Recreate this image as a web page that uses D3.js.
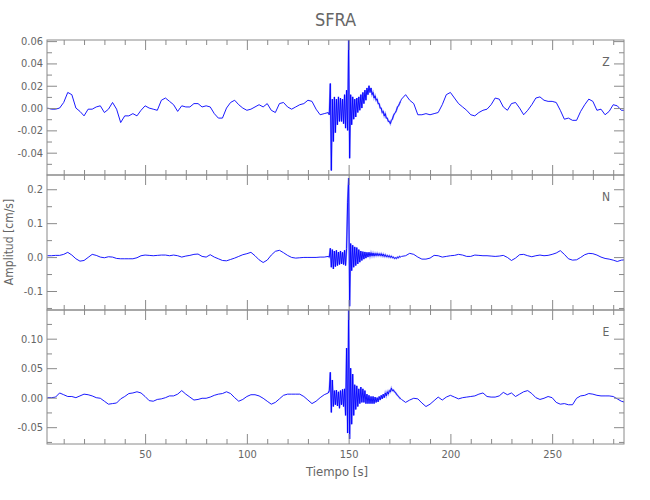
<!DOCTYPE html>
<html><head><meta charset="utf-8">
<script src="https://cdn.jsdelivr.net/npm/d3@7"></script>
<style>
body{margin:0;background:#fff}
text{font-family:"Liberation Sans Narrow","DejaVu Sans Condensed","Liberation Sans",sans-serif;fill:#666}
</style></head>
<body><svg id="c" width="650" height="500"></svg>
<script>
// ---- data (time in s, amplitude in cm/s) ----
const tPre = d3.range(2, 140, 2);      // 2..138
const tEvent = d3.range(140, 176, 0.5); // 140..175.5
const tPost = d3.range(176, 287, 2);   // 176..286

const zPre = [0.000,-0.001,-0.001,0.000,0.005,0.014,0.012,0.000,-0.003,-0.007,
 -0.001,-0.001,0.001,0.002,-0.004,-0.001,0.005,-0.001,-0.013,-0.007,
 -0.007,-0.005,-0.007,-0.002,0.002,0.000,-0.001,-0.002,0.007,0.009,
 0.006,0.003,-0.003,0.002,0.001,0.001,0.004,0.004,0.001,0.002,
 0.001,-0.005,-0.009,-0.009,0.000,0.005,0.007,0.003,0.000,-0.002,
 -0.001,0.001,0.003,0.001,0.004,-0.002,-0.004,0.004,0.005,0.001,
 -0.001,0.001,0.003,0.004,0.007,0.006,-0.001,-0.006,-0.005];
const zEvent = [-0.004,-0.006,0.022,-0.056,0.008,-0.030,0.010,-0.022,0.008,-0.015,
 0.010,-0.012,0.009,-0.012,0.008,-0.014,0.012,-0.018,0.016,-0.020,
 0.061,-0.045,0.012,-0.015,0.010,-0.010,0.008,-0.008,0.009,-0.004,
 0.010,-0.002,0.012,0.000,0.014,0.004,0.016,0.007,0.018,0.012,
 0.020,0.014,0.018,0.012,0.014,0.009,0.011,0.007,0.008,0.004,
 0.004,0.000,0.000,-0.004,-0.003,-0.007,-0.005,-0.009,-0.009,-0.012,
 -0.012,-0.014,-0.011,-0.010,-0.007,-0.005,-0.004,-0.002,0.001,0.002,
 0.004,0.006];
const zPost = [0.008,0.012,0.007,0.004,-0.006,-0.006,-0.005,-0.006,-0.005,-0.004,
 0.003,0.012,0.014,0.009,0.004,0.001,-0.002,-0.006,-0.007,-0.004,
 -0.002,-0.001,0.003,0.009,0.008,0.001,-0.002,0.004,0.005,0.000,
 -0.006,-0.002,0.003,0.009,0.010,0.007,0.006,0.006,0.005,-0.002,
 -0.010,-0.009,-0.011,-0.011,-0.003,0.003,0.008,0.006,-0.002,-0.001,
 -0.006,-0.003,0.003,0.002,-0.002,-0.002];

const nPre = [0.004,0.004,0.005,0.005,0.008,0.014,0.006,-0.005,-0.012,-0.010,
 -0.001,0.008,0.005,0.000,-0.002,0.001,0.000,-0.004,-0.005,-0.005,
 -0.005,-0.005,-0.002,0.004,0.006,0.005,0.004,0.005,0.006,0.006,
 0.004,0.006,0.004,0.000,0.003,0.005,0.008,0.009,0.002,0.000,
 0.007,0.000,-0.005,-0.010,-0.011,-0.007,-0.003,0.002,0.007,0.010,
 0.014,0.004,-0.008,-0.016,-0.009,0.006,0.017,0.020,0.013,0.005,
 -0.001,-0.003,-0.002,-0.001,-0.001,-0.001,-0.001,0.000,0.000];
const nEvent = [0.002,0.000,0.026,-0.030,0.022,-0.035,0.018,-0.028,0.020,-0.025,
 0.015,-0.022,0.018,-0.020,0.014,-0.022,0.020,-0.025,0.025,0.160,
 0.233,-0.145,0.040,-0.040,0.035,-0.030,0.030,-0.025,0.028,-0.020,
 0.022,-0.015,0.018,-0.010,0.016,-0.006,0.015,-0.003,0.014,0.000,
 0.014,0.002,0.013,0.003,0.012,0.003,0.011,0.004,0.011,0.004,
 0.010,0.004,0.010,0.003,0.009,0.002,0.007,0.001,0.005,0.000,
 0.004,-0.001,0.003,-0.002,0.000,-0.004,-0.002,-0.004,0.000,-0.002,
 0.002,0.000];
const nPost = [0.002,0.004,0.011,0.008,0.000,-0.006,-0.006,-0.003,0.005,0.004,
 0.000,0.002,0.004,0.005,0.008,0.006,0.002,0.002,0.006,0.005,
 0.004,0.004,0.003,0.002,0.003,0.005,-0.001,-0.010,-0.003,0.007,
 0.008,0.004,0.001,0.004,0.006,0.004,0.005,0.008,0.012,0.019,
 0.008,-0.005,-0.009,-0.008,-0.001,0.007,0.011,0.010,0.006,0.000,
 -0.004,-0.006,-0.009,-0.013,-0.009,-0.008];

const ePre = [0.000,0.000,0.001,0.008,0.005,0.002,0.002,0.000,0.003,0.006,
 0.005,0.003,0.000,-0.001,-0.006,-0.011,-0.010,-0.009,-0.002,0.002,
 0.007,0.008,0.010,0.008,0.002,-0.005,-0.006,-0.003,-0.002,0.000,
 0.003,0.003,0.006,0.012,0.006,0.001,-0.004,-0.003,-0.001,-0.001,
 0.001,0.004,0.006,0.007,0.010,0.007,0.000,-0.006,-0.003,0.002,
 0.005,0.005,0.003,-0.001,-0.006,-0.011,-0.008,-0.002,0.004,0.006,
 0.006,0.006,0.006,0.002,-0.004,-0.010,-0.006,0.000,0.005];
const eEvent = [0.008,0.012,0.043,-0.025,0.030,-0.015,0.012,-0.012,0.013,-0.014,
 0.010,-0.018,0.012,-0.012,0.014,-0.015,0.015,-0.030,0.084,-0.060,
 0.150,-0.070,0.050,-0.045,0.040,-0.030,0.022,-0.020,0.020,-0.015,
 0.015,-0.010,0.018,-0.008,0.015,-0.008,0.012,-0.010,0.006,-0.010,
 0.004,-0.010,0.002,-0.010,0.002,-0.010,0.001,-0.008,0.000,-0.007,
 0.002,-0.004,0.004,-0.002,0.006,0.000,0.008,0.003,0.010,0.006,
 0.012,0.010,0.016,0.012,0.013,0.010,0.009,0.006,0.004,0.002,
 0.000,-0.002];
const ePost = [-0.003,-0.008,-0.004,-0.001,-0.002,-0.009,-0.015,-0.011,-0.005,0.001,
 -0.004,0.001,0.004,0.001,-0.002,0.000,0.001,0.002,0.003,0.006,
 0.008,0.002,0.001,0.001,0.003,0.009,0.005,0.008,0.002,0.006,
 0.010,0.012,0.007,0.000,-0.003,-0.001,0.002,0.000,-0.008,-0.011,
 -0.010,-0.012,-0.012,-0.001,0.003,0.004,0.007,0.006,0.004,0.003,
 0.003,0.003,0.002,-0.002,-0.006,-0.008];

const xMajor = [50, 100, 150, 200, 250];
const xMinor = d3.range(10, 290, 10);
const zMajor = [-0.04, -0.02, 0.00, 0.02, 0.04, 0.06];
const zMinor = [-0.05, -0.03, -0.01, 0.01, 0.03, 0.05];
const nMajor = [-0.1, 0.0, 0.1, 0.2];
const nMinor = [-0.15, -0.05, 0.05, 0.15];
const eMajor = [-0.05, 0.00, 0.05, 0.10];
const eMinor = [-0.075, -0.025, 0.025, 0.075, 0.125];

const title = "SFRA";
const xLabel = "Tiempo [s]";
const yLabel = "Amplitud [cm/s]";

// ---- layout ----
const L = 47, R = 624;
const svg = d3.select("#c");
const x = d3.scaleLinear().domain([1.8, 285.3]).range([L, R]);
const times = tPre.concat(tEvent, tPost);

const panels = [
  {name:"Z", ev:zEvent, vals:zPre.concat(zEvent, zPost), dom:[-0.06, 0.061], top:40, bot:175, major:zMajor, minor:zMinor, dec:2},
  {name:"N", ev:nEvent, vals:nPre.concat(nEvent, nPost), dom:[-0.156, 0.242], top:175, bot:310, major:nMajor, minor:nMinor, dec:1},
  {name:"E", ev:eEvent, vals:ePre.concat(eEvent, ePost), dom:[-0.0785, 0.1486], top:310, bot:444, major:eMajor, minor:eMinor, dec:2}
];

const axisCol = "#8a8a8a";
function styleAxis(g){
  g.select(".domain").remove();
  g.selectAll(".tick line").attr("stroke", axisCol);
  g.selectAll(".tick text").attr("fill", "#6a6a6a").style("font-size", "11px")
    .style("font-family", '"Liberation Sans Narrow","DejaVu Sans Condensed",sans-serif');
}

panels.forEach((p, i) => {
  const y = d3.scaleLinear().domain(p.dom).range([p.bot, p.top]);
  const clipId = "clip" + i;
  svg.append("clipPath").attr("id", clipId).append("rect")
    .attr("x", L).attr("y", p.top).attr("width", R - L).attr("height", p.bot - p.top);

  const line = d3.line().x(d => x(d[0])).y(d => y(d[1]));
  // light under-band for the dense strong-motion part
  const evData = tEvent.map((t, k) => [t, p.ev[k]]);
  svg.append("path").datum(evData)
    .attr("clip-path", `url(#${clipId})`)
    .attr("fill", "none").attr("stroke", "#7a7aff").attr("stroke-width", 1.8)
    .attr("stroke-opacity", 0.7).attr("d", line);

  const data = times.map((t, k) => [t, p.vals[k]]);
  svg.append("path").datum(data)
    .attr("clip-path", `url(#${clipId})`)
    .attr("fill", "none").attr("stroke", "#0000ff").attr("stroke-width", 0.9)
    .attr("stroke-linejoin", "round")
    .attr("d", line);

  // frame
  svg.append("rect").attr("x", L).attr("y", p.top).attr("width", R - L).attr("height", p.bot - p.top)
    .attr("fill", "none").attr("stroke", axisCol).attr("stroke-width", 1);

  // y axes
  svg.append("g").attr("transform", `translate(${L},0)`)
    .call(d3.axisLeft(y).tickValues(p.major).tickSize(-10).tickPadding(4).tickFormat(d => d.toFixed(p.dec)))
    .call(styleAxis);
  svg.append("g").attr("transform", `translate(${L},0)`)
    .call(d3.axisLeft(y).tickValues(p.minor).tickSize(-5).tickFormat("")).call(styleAxis);
  svg.append("g").attr("transform", `translate(${R},0)`)
    .call(d3.axisRight(y).tickValues(p.major).tickSize(-10).tickFormat("")).call(styleAxis);
  svg.append("g").attr("transform", `translate(${R},0)`)
    .call(d3.axisRight(y).tickValues(p.minor).tickSize(-5).tickFormat("")).call(styleAxis);

  // x axes (top and bottom of each panel)
  const minorOnly = xMinor.filter(v => !xMajor.includes(v));
  svg.append("g").attr("transform", `translate(0,${p.top})`)
    .call(d3.axisTop(x).tickValues(xMajor).tickSize(-10).tickFormat("")).call(styleAxis);
  svg.append("g").attr("transform", `translate(0,${p.top})`)
    .call(d3.axisTop(x).tickValues(minorOnly).tickSize(-5).tickFormat("")).call(styleAxis);
  const last = i === panels.length - 1;
  svg.append("g").attr("transform", `translate(0,${p.bot})`)
    .call(d3.axisBottom(x).tickValues(xMajor).tickSize(-10).tickPadding(6)
      .tickFormat(last ? d3.format("d") : ""))
    .call(styleAxis);
  svg.append("g").attr("transform", `translate(0,${p.bot})`)
    .call(d3.axisBottom(x).tickValues(minorOnly).tickSize(-5).tickFormat("")).call(styleAxis);

  // component letter
  svg.append("text").attr("x", 606).attr("y", p.top + 26).attr("text-anchor", "middle")
    .style("font-size", "12px").text(p.name);
});

svg.append("text").attr("x", (L + R) / 2).attr("y", 26).attr("text-anchor", "middle")
  .style("font-size", "18px").text(title);
svg.append("text").attr("x", 337).attr("y", 476).attr("text-anchor", "middle")
  .style("font-size", "13px").text(xLabel);
svg.append("text").attr("transform", "translate(13,242) rotate(-90)").attr("text-anchor", "middle")
  .style("font-size", "12px").text(yLabel);
</script>
</body></html>
